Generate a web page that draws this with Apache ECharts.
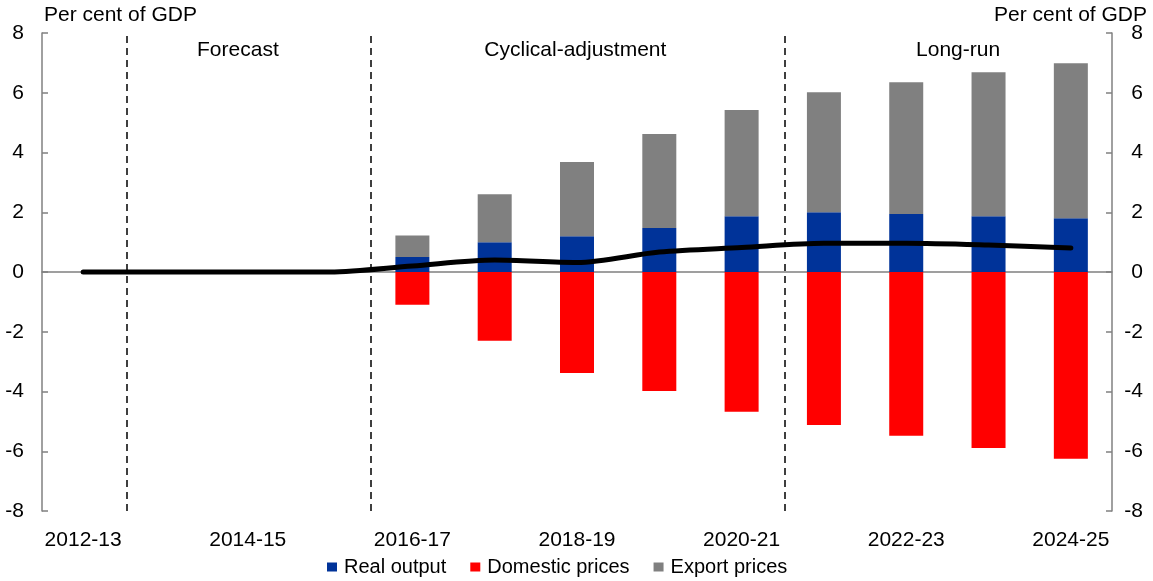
<!DOCTYPE html>
<html>
<head>
<meta charset="utf-8">
<script src="https://cdn.jsdelivr.net/npm/echarts@6/dist/echarts.min.js"></script>
<style>
  html, body { margin: 0; padding: 0; background: #fff; }
  #chart1 { width: 1153px; height: 581px; }
</style>
</head>
<body>
<div id="chart1"></div>
<script>
var years = ["2012-13", "2013-14", "2014-15", "2015-16", "2016-17", "2017-18", "2018-19",
    "2019-20", "2020-21", "2021-22", "2022-23", "2023-24", "2024-25"]
var realOutput = [null, null, null, null, 0.5, 1.0, 1.2, 1.47, 1.87, 2.0, 1.94, 1.87, 1.8]
var domesticPrices = [null, null, null, null, -1.1, -2.3, -3.38, -3.98, -4.68, -5.12, -5.48, -5.89, -6.25]
var exportPrices = [null, null, null, null, 0.72, 1.6, 2.48, 3.15, 3.55, 4.02, 4.41, 4.82, 5.19]
var netEffect = [0, 0, 0, 0, 0.2, 0.4, 0.32, 0.67, 0.82, 0.96, 0.96, 0.9, 0.8]
var yTicks = [-8, -6, -4, -2, 0, 2, 4, 6, 8]

// section dividers (category boundaries) and section names
var dividers = [1.03, 4, 9.02]
var sections = ["Forecast", "Cyclical-adjustment", "Long-run"]
var sectionPos = [[2.38, 7.42], [6.48, 7.42], [11.13, 7.42]]

var font = "Liberation Sans"
var chart = echarts.init(document.querySelector("#chart1"))

var yAxisBase = {
    type: "value",
    min: yTicks[0],
    max: yTicks[yTicks.length - 1],
    interval: 2,
    splitLine: { show: false },
    axisLine: { show: true, lineStyle: { color: "#808080", width: 1.5 } },
    axisTick: { show: true, inside: true, length: 6, lineStyle: { color: "#808080", width: 1.5 } }
}

var option = {
    animation: false,
    title: [
        { text: "Per cent of GDP", left: 39, top: 0, textStyle: { fontFamily: font, fontSize: 21, fontWeight: "normal", color: "#000" } },
        { text: "Per cent of GDP", right: 1, top: 0, textStyle: { fontFamily: font, fontSize: 21, fontWeight: "normal", color: "#000" } }
    ],
    grid: { left: 42, right: 41, top: 33, bottom: 70 },
    legend: {
        data: ["Real output", "Domestic prices", "Export prices"],
        bottom: -1,
        left: 322,
        itemWidth: 10,
        itemHeight: 9,
        itemGap: 24,
        icon: "rect",
        textStyle: { fontFamily: font, fontSize: 20, color: "#000", padding: [0, 0, 0, 2] }
    },
    xAxis: [
        {
            type: "category",
            data: years,
            axisLine: { onZero: true, lineStyle: { color: "#808080", width: 1.5 } },
            axisTick: { inside: true, interval: 1, length: 5, lineStyle: { color: "#808080", width: 1.5 } },
            axisLabel: { show: false }
        },
        {
            type: "category",
            data: years,
            position: "bottom",
            axisLine: { show: false, onZero: false },
            axisTick: { show: false },
            axisLabel: { interval: 1, margin: 19, fontFamily: font, fontSize: 21, color: "#000" }
        },
        {
            type: "value",
            min: 0,
            max: years.length,
            show: false
        }
    ],
    yAxis: [
        Object.assign({}, yAxisBase, {
            position: "left",
            axisLabel: { margin: 18, fontFamily: font, fontSize: 21, color: "#000" }
        }),
        Object.assign({}, yAxisBase, {
            position: "right",
            axisLabel: { margin: 31, align: "right", fontFamily: font, fontSize: 21, color: "#000" }
        })
    ],
    series: [
        {
            name: "Real output", type: "bar", stack: "a", barWidth: 34,
            itemStyle: { color: "#003399" }, data: realOutput
        },
        {
            name: "Domestic prices", type: "bar", stack: "a", barWidth: 34,
            itemStyle: { color: "#FF0000" }, data: domesticPrices
        },
        {
            name: "Export prices", type: "bar", stack: "a", barWidth: 34,
            itemStyle: { color: "#808080" }, data: exportPrices
        },
        {
            name: "Net", type: "line", smooth: 0.3, symbol: "none",
            lineStyle: { color: "#000", width: 5, cap: "round" }, data: netEffect, z: 5
        },
        {
            name: "sections", type: "scatter", xAxisIndex: 2, yAxisIndex: 0,
            symbolSize: 0, silent: true,
            itemStyle: { opacity: 1 },
            data: sections.map(function (s, i) { return { name: s, value: sectionPos[i] } }),
            label: {
                show: true, position: "inside", formatter: "{b}", opacity: 1,
                fontFamily: font, fontSize: 21, color: "#000"
            },
            markLine: {
                silent: true, symbol: "none",
                label: { show: false },
                lineStyle: { color: "#000", type: [7, 5], width: 1.5 },
                data: dividers.map(function (d) { return { xAxis: d } })
            }
        }
    ]
}

chart.setOption(option)
</script>
</body>
</html>
